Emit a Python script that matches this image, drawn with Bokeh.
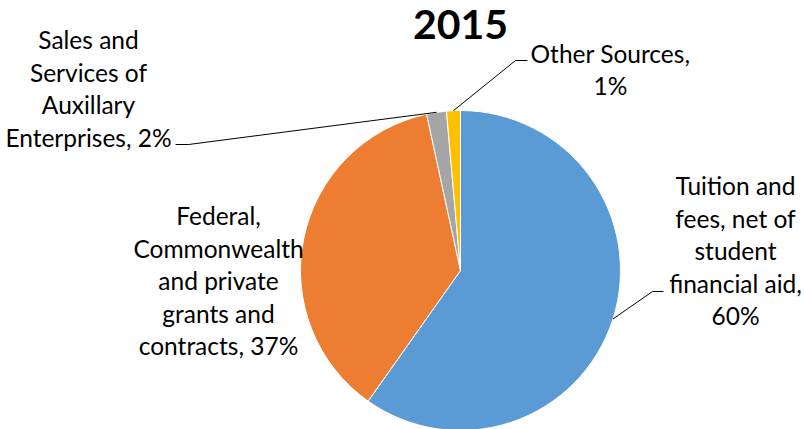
import math
from bokeh.plotting import figure
from bokeh.models import Range1d
from bokeh.core.properties import value
from bokeh.embed import file_html
from bokeh.resources import INLINE

# ---- data ----
title = "2015"
categories = ["Tuition and fees, net of student financial aid",
              "Federal, Commonwealth and private grants and contracts",
              "Sales and Services of Auxillary Enterprises",
              "Other Sources"]
values = [59.8, 36.8, 2.0, 1.4]
colors = ["#5B9BD5", "#ED7D31", "#A5A5A5", "#FFC000"]
label_lines = [
    ["Tuition and", "fees, net of", "student", "financial aid,", "{p}%"],
    ["Federal,", "Commonwealth", "and private", "grants and", "contracts, {p}%"],
    ["Sales and", "Services of", "Auxillary", "Enterprises, {p}%"],
    ["Other Sources,", "{p}%"],
]

# ---- layout (screen px, y from top) ----
W, H = 804, 429
CX, CY, R = 460, 270, 160
LINE = 32.5
FONT = "Lato"
label_pos = [(735, 250), (218, 280), (88, 88), (610, 69)]
# leader: (elbow, end) or None
leaders = [((652, 291), (663, 291)), None, ((188, 144), (175, 144)), ((515, 60), (527, 60))]

def sy(y):
    return H - y

p = figure(width=W, height=H, output_backend="svg", toolbar_location=None,
           x_range=Range1d(0, W), y_range=Range1d(0, H), min_border=0,
           background_fill_color="white", border_fill_color="white")
p.axis.visible = False
p.grid.visible = False
p.outline_line_color = None

total = sum(values)
cum = 0.0
mids = []
for v, c in zip(values, colors):
    a0 = math.pi / 2 - 2 * math.pi * cum / total
    a1 = math.pi / 2 - 2 * math.pi * (cum + v) / total
    p.wedge(x=CX, y=sy(CY), radius=R, start_angle=a0, end_angle=a1, direction="clock",
            fill_color=c, line_color="white", line_width=1)
    mids.append(math.pi / 2 - 2 * math.pi * (cum + v / 2) / total)
    cum += v

for i, (v, lines) in enumerate(zip(values, label_lines)):
    pct = round(v)
    lx, ly = label_pos[i]
    n = len(lines)
    for j, t in enumerate(lines):
        yy = ly + (j - (n - 1) / 2) * LINE
        p.text(x=[lx], y=[sy(yy)], text=[t.format(p=pct)], text_align="center",
               text_baseline="middle", text_font=value(FONT), text_font_size="24.5px",
               text_color="black")
    if leaders[i] is not None:
        a = mids[i]
        sx0 = CX + R * math.cos(a)
        sy0 = CY - R * math.sin(a)
        (ex, ey), (fx, fy) = leaders[i]
        p.line(x=[sx0, ex, fx], y=[sy(sy0), sy(ey), sy(fy)], line_color="black", line_width=1)

p.text(x=[CX], y=[sy(24)], text=[title], text_align="center", text_baseline="middle",
       text_font=value(FONT), text_font_style="bold", text_font_size="41px", text_color="black")

open("out.html", "w").write(file_html(p, INLINE))
